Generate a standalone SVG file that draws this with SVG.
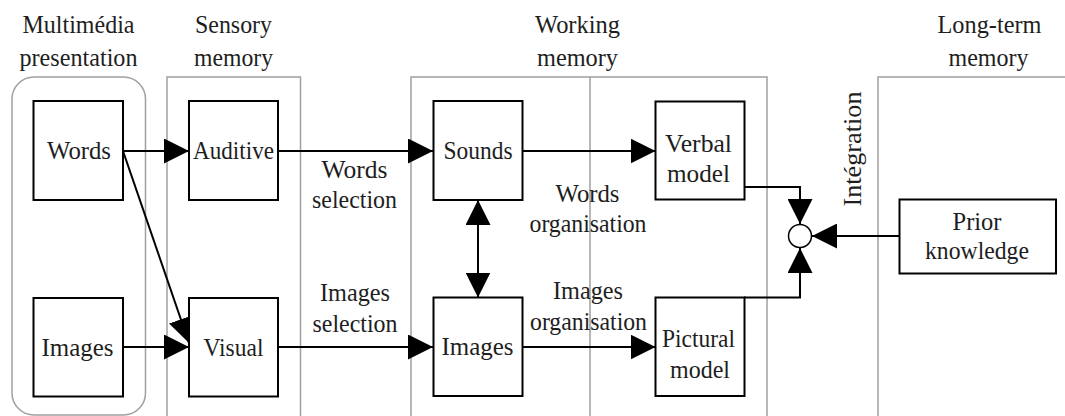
<svg xmlns="http://www.w3.org/2000/svg" width="1065" height="416" viewBox="0 0 1065 416">
<style>
  text { font-family: 'Liberation Serif', 'Times New Roman', 'DejaVu Serif', serif; font-size: 26px; fill: #1e1e1e; text-anchor: middle; }
  .panel { fill: none; stroke: #a0a0a0; stroke-width: 1.5; }
  .box rect { fill: #ffffff; stroke: #000000; stroke-width: 2; }
  .conn { fill: none; stroke: #000000; stroke-width: 2; }
  .arr { marker-end: url(#ah); }
</style>
<defs>
  <marker id="ah" markerUnits="userSpaceOnUse" markerWidth="25" markerHeight="25" refX="25" refY="12.5" orient="auto-start-reverse" viewBox="0 0 25 25">
    <path d="M0,0 L25,12.5 L0,25 z" fill="#000000"/>
  </marker>
</defs>
<rect width="1065" height="416" fill="#ffffff"/>

<g id="panels">
  <rect class="panel" x="12" y="77" width="133.5" height="338" rx="22" ry="22"/>
  <path class="panel" d="M167,420 V77 H300.5 V420"/>
  <path class="panel" d="M411,420 V77 H767 V420 M590,77 V420"/>
  <path class="panel" d="M878,420 V77 H1070"/>
</g>

<g id="headers">
  <text x="78.5" y="33" textLength="112" lengthAdjust="spacingAndGlyphs">Multimédia</text>
  <text x="78.5" y="66" textLength="118" lengthAdjust="spacingAndGlyphs">presentation</text>
  <text x="233.5" y="33" textLength="77" lengthAdjust="spacingAndGlyphs">Sensory</text>
  <text x="233.5" y="66" textLength="79" lengthAdjust="spacingAndGlyphs">memory</text>
  <text x="577.5" y="33" textLength="85" lengthAdjust="spacingAndGlyphs">Working</text>
  <text x="577.5" y="66" textLength="81" lengthAdjust="spacingAndGlyphs">memory</text>
  <text x="989.5" y="33" textLength="104" lengthAdjust="spacingAndGlyphs">Long-term</text>
  <text x="988.5" y="66" textLength="80" lengthAdjust="spacingAndGlyphs">memory</text>
</g>

<g id="connectors">
  <line class="conn arr" x1="123" y1="151" x2="189" y2="151"/>
  <line class="conn arr" x1="123" y1="347" x2="189" y2="347"/>
  <line class="conn arr" x1="123" y1="151" x2="189" y2="343"/>
  <line class="conn arr" x1="278" y1="151" x2="433" y2="151"/>
  <line class="conn arr" x1="278" y1="347" x2="433" y2="347"/>
  <line class="conn arr" x1="522" y1="151" x2="655.5" y2="151"/>
  <line class="conn arr" x1="522" y1="347" x2="655.5" y2="347"/>
  <line class="conn arr" x1="478" y1="200" x2="478" y2="297.5" style="marker-start:url(#ah)"/>
  <polyline class="conn arr" points="744,187 800,187 800,224"/>
  <polyline class="conn arr" points="744,297.5 800,297.5 800,248"/>
  <line class="conn arr" x1="899" y1="236" x2="812" y2="236"/>
  <circle cx="800" cy="236" r="11.5" fill="#ffffff" stroke="#000000" stroke-width="1.5"/>
</g>

<g id="labels">
  <text x="354.5" y="178" textLength="66" lengthAdjust="spacingAndGlyphs">Words</text>
  <text x="354.5" y="208" textLength="85" lengthAdjust="spacingAndGlyphs">selection</text>
  <text x="355" y="301" textLength="70" lengthAdjust="spacingAndGlyphs">Images</text>
  <text x="355" y="332" textLength="85" lengthAdjust="spacingAndGlyphs">selection</text>
  <text x="587.5" y="202" textLength="64" lengthAdjust="spacingAndGlyphs">Words</text>
  <text x="588" y="232" textLength="117" lengthAdjust="spacingAndGlyphs">organisation</text>
  <text x="588" y="299" textLength="70" lengthAdjust="spacingAndGlyphs">Images</text>
  <text x="588.5" y="330" textLength="117" lengthAdjust="spacingAndGlyphs">organisation</text>
  <text transform="translate(861,149) rotate(-90)" textLength="115" lengthAdjust="spacingAndGlyphs">Intégration</text>
</g>

<g id="n-words" class="box"><rect x="33.5" y="101" width="89.5" height="99"/><text x="79" y="159" textLength="64" lengthAdjust="spacingAndGlyphs">Words</text></g>
<g id="n-images-in" class="box"><rect x="33.5" y="298" width="89.5" height="98.5"/><text x="77.5" y="356" textLength="72" lengthAdjust="spacingAndGlyphs">Images</text></g>
<g id="n-auditive" class="box"><rect x="189" y="101" width="89" height="99"/><text x="233.5" y="159" textLength="81" lengthAdjust="spacingAndGlyphs">Auditive</text></g>
<g id="n-visual" class="box"><rect x="189" y="298" width="89" height="98.5"/><text x="233.5" y="356" textLength="60" lengthAdjust="spacingAndGlyphs">Visual</text></g>
<g id="n-sounds" class="box"><rect x="433.5" y="101" width="89" height="99"/><text x="478" y="159" textLength="69" lengthAdjust="spacingAndGlyphs">Sounds</text></g>
<g id="n-images-wm" class="box"><rect x="433.5" y="297.5" width="89" height="98.5"/><text x="477.5" y="355" textLength="72" lengthAdjust="spacingAndGlyphs">Images</text></g>
<g id="n-verbal" class="box"><rect x="655.5" y="101.5" width="89" height="98"/><text x="698.5" y="152" textLength="67" lengthAdjust="spacingAndGlyphs">Verbal</text><text x="698.5" y="182" textLength="63" lengthAdjust="spacingAndGlyphs">model</text></g>
<g id="n-pictural" class="box"><rect x="655.5" y="297.5" width="89" height="98.5"/><text x="698.5" y="347" textLength="73" lengthAdjust="spacingAndGlyphs">Pictural</text><text x="700" y="378" textLength="60" lengthAdjust="spacingAndGlyphs">model</text></g>
<g id="n-prior" class="box"><rect x="899.5" y="199.5" width="156.5" height="74"/><text x="977" y="230" textLength="49" lengthAdjust="spacingAndGlyphs">Prior</text><text x="977" y="259" textLength="104" lengthAdjust="spacingAndGlyphs">knowledge</text></g>
</svg>
